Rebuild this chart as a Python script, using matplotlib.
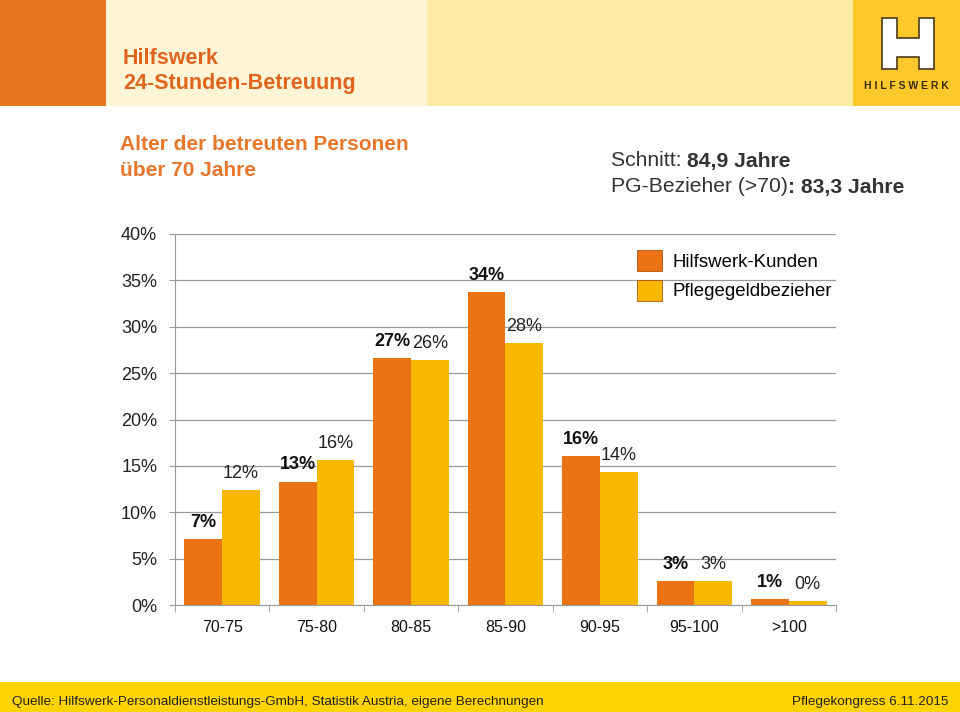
import matplotlib.pyplot as plt
import numpy as np
from matplotlib.patches import Rectangle, Polygon

plt.rcParams['font.family'] = ['Liberation Sans', 'DejaVu Sans']

categories = ['70-75', '75-80', '80-85', '85-90', '90-95', '95-100', '>100']
kunden = [7.1, 13.3, 26.6, 33.7, 16.1, 2.6, 0.65]
pflege = [12.4, 15.6, 26.4, 28.2, 14.3, 2.6, 0.45]
kunden_lbl = ['7%', '13%', '27%', '34%', '16%', '3%', '1%']
pflege_lbl = ['12%', '16%', '26%', '28%', '14%', '3%', '0%']
yticks = [0, 5, 10, 15, 20, 25, 30, 35, 40]

c_orange = '#EC7314'
c_yellow = '#F9B800'
c_text = '#333333'

W, H = 960, 712
fig = plt.figure(figsize=(9.6, 7.12), dpi=100)

# background / slide layout
bg = fig.add_axes([0, 0, 1, 1], zorder=0)
bg.set_xlim(0, W)
bg.set_ylim(H, 0)
bg.axis('off')
bg.add_patch(Rectangle((0, 0), 106, 106, color='#E87722', lw=0))
bg.add_patch(Rectangle((106, 0), 321, 106, color='#FEF5D6', lw=0))
bg.add_patch(Rectangle((427, 0), 426, 106, color='#FEEAA4', lw=0))
bg.add_patch(Rectangle((853, 0), 107, 106, color='#FDC82A', lw=0))
bg.add_patch(Rectangle((0, 682), W, 30, color='#FFD400', lw=0))

# logo: H shape
hx0, hx1, hy0, hy1 = 882, 934, 18, 69
lw_ = 15
cb0, cb1 = 38, 57
hpts = [(hx0, hy0), (hx0 + lw_, hy0), (hx0 + lw_, cb0), (hx1 - lw_, cb0), (hx1 - lw_, hy0),
        (hx1, hy0), (hx1, hy1), (hx1 - lw_, hy1), (hx1 - lw_, cb1), (hx0 + lw_, cb1),
        (hx0 + lw_, hy1), (hx0, hy1)]
bg.add_patch(Polygon(hpts, closed=True, facecolor='white', edgecolor='#4a3a20', lw=1.2))
bg.text(906, 86, 'H I L F S W E R K', ha='center', va='center', fontsize=7.5,
        fontweight='bold', color='#3a2a10')

bg.text(123, 58, 'Hilfswerk', fontsize=15.5, fontweight='bold', color='#E0641E', va='center')
bg.text(123, 83, '24-Stunden-Betreuung', fontsize=15.5, fontweight='bold', color='#E0641E', va='center')
bg.text(120, 144, 'Alter der betreuten Personen', fontsize=15, fontweight='bold', color='#E8762A', va='center')
bg.text(120, 170, 'über 70 Jahre', fontsize=15, fontweight='bold', color='#E8762A', va='center')

t1 = bg.text(611, 161, 'Schnitt: ', fontsize=15.2, color=c_text, va='center')
bg.annotate('84,9 Jahre', xycoords=t1, xy=(1, 0.5), va='center', fontsize=15.2,
            fontweight='bold', color=c_text)
t2 = bg.text(611, 187, 'PG-Bezieher (>70)', fontsize=15.2, color=c_text, va='center')
bg.annotate(': 83,3 Jahre', xycoords=t2, xy=(1, 0.5), va='center', fontsize=15.2,
            fontweight='bold', color=c_text)

bg.text(12, 702, 'Quelle: Hilfswerk-Personaldienstleistungs-GmbH, Statistik Austria, eigene Berechnungen',
        fontsize=9.7, color='#222222', va='center')
bg.text(948, 702, 'Pflegekongress 6.11.2015', fontsize=9.7, color='#222222', va='center', ha='right')

# chart
left, right, top, bottom = 175, 836, 234, 605
ax = fig.add_axes([left / W, (H - bottom) / H, (right - left) / W, (bottom - top) / H], zorder=1)
ax.patch.set_alpha(0)

x = np.arange(len(categories))
bw = 0.4
b1 = ax.bar(x - bw / 2, kunden, bw, color=c_orange, label='Hilfswerk-Kunden', zorder=2)
b2 = ax.bar(x + bw / 2, pflege, bw, color=c_yellow, label='Pflegegeldbezieher', zorder=2)

for i in range(len(categories)):
    ax.annotate(kunden_lbl[i], (x[i] - bw / 2, kunden[i]), xytext=(0, 12), textcoords='offset points',
                ha='center', va='center', fontsize=13, fontweight='bold', color='#111111')
    ax.annotate(pflege_lbl[i], (x[i] + bw / 2, pflege[i]), xytext=(0, 12), textcoords='offset points',
                ha='center', va='center', fontsize=13, color='#222222')

ax.set_xlim(-0.5, len(categories) - 0.5)
ax.set_ylim(0, 40)
ax.set_yticks(yticks)
ax.set_yticklabels([f'{v}%' for v in yticks])
ax.yaxis.grid(True, color='#9a9a9a', lw=0.9)
ax.set_axisbelow(True)
ax.set_xticks(x)
ax.set_xticklabels(categories)
ax.set_xticks(np.arange(-0.5, len(categories)), minor=True)
ax.tick_params(axis='x', which='major', length=0, pad=10.5, labelsize=11.5, labelcolor='#111111')
ax.tick_params(axis='x', which='minor', length=5, color='#9a9a9a', direction='out')
ax.tick_params(axis='y', length=4.3, color='#9a9a9a', pad=8.5, labelsize=13, labelcolor='#222222')
for s in ['top', 'right']:
    ax.spines[s].set_visible(False)
for s in ['left', 'bottom']:
    ax.spines[s].set_color('#9a9a9a')

leg = ax.legend(handles=[b1, b2], loc='upper left',
                bbox_to_anchor=((637 - left) / (right - left), 1 - (250 - top) / (bottom - top)),
                frameon=False, fontsize=13.4, handlelength=1.35, handleheight=1.35, handletextpad=0.55,
                labelspacing=0.48, borderaxespad=0, borderpad=0)
for p in leg.get_patches():
    p.set_edgecolor('#b05010')
    p.set_linewidth(0.6)

fig.savefig('out.png', dpi=100)
